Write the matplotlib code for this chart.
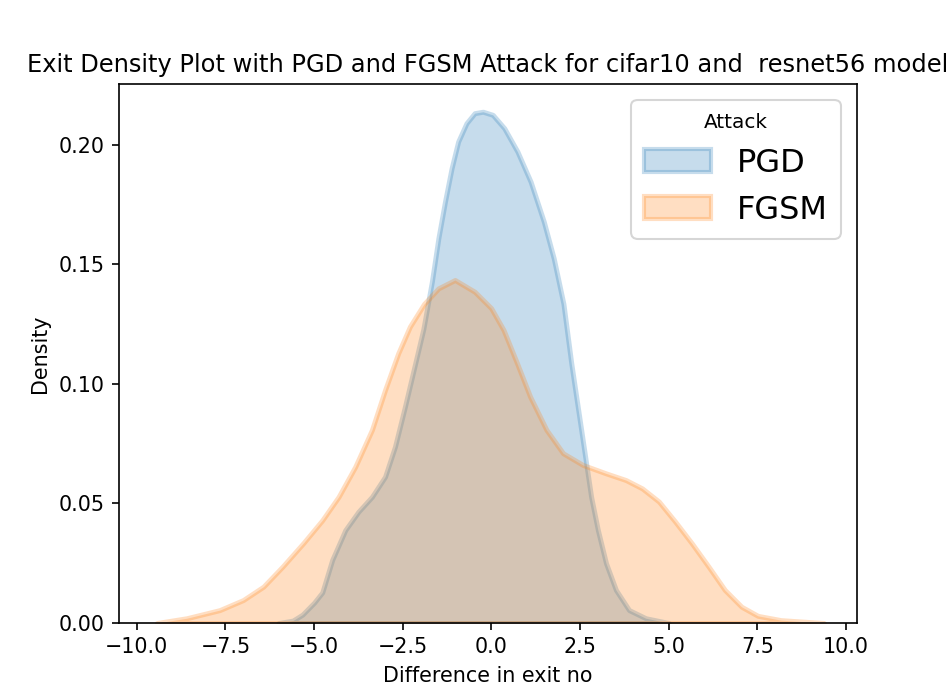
import matplotlib
matplotlib.use("Agg")
import matplotlib.pyplot as plt
from matplotlib.patches import Patch

# Density curves (x = difference in exit no, y = density)
pgd_x = [-6.0, -5.6, -5.33, -5.0, -4.77, -4.49, -4.12, -3.75, -3.37, -3.0, -2.72,
         -2.44, -2.16, -1.92, -1.68, -1.496, -1.31, -1.123, -0.939, -0.705, -0.474,
         -0.24, 0.036, 0.362, 0.733, 1.105, 1.476, 1.755, 2.03, 2.25, 2.39,
         2.53, 2.67, 2.81, 3.0, 3.23, 3.51, 3.88, 4.35, 5.0]
pgd_y = [0.0, 0.001, 0.0035, 0.0085, 0.0128, 0.0264, 0.0389, 0.0466, 0.0528, 0.0612, 0.0738,
         0.0905, 0.108, 0.123, 0.1428, 0.161, 0.1763, 0.1903, 0.2014, 0.2091, 0.2133,
         0.2139, 0.2126, 0.207, 0.1972, 0.1846, 0.1679, 0.1526, 0.1335, 0.1087, 0.0947,
         0.0808, 0.0668, 0.0528, 0.0389, 0.025, 0.0138, 0.0054, 0.002, 0.0]

fgsm_x = [-9.43, -8.59, -7.66, -7.0, -6.43, -5.89, -5.3, -4.77, -4.31, -3.84, -3.37,
          -3.0, -2.63, -2.3, -1.9, -1.496, -1.03, -0.474, -0.008, 0.34, 0.72, 1.09,
          1.55, 2.02, 2.58, 3.23, 3.79, 4.25, 4.72, 5.18, 5.65, 6.12, 6.58, 7.05,
          7.51, 8.16, 9.37]
fgsm_y = [0.0, 0.002, 0.0054, 0.0096, 0.0152, 0.0236, 0.0335, 0.043, 0.0528, 0.0654, 0.0808,
          0.0975, 0.1128, 0.124, 0.1335, 0.140, 0.1435, 0.1386, 0.1317, 0.1226, 0.1087, 0.0947,
          0.0808, 0.071, 0.0661, 0.0626, 0.0598, 0.0563, 0.0508, 0.0424, 0.0333, 0.0236, 0.0138,
          0.0068, 0.003, 0.0012, 0.0]

series_names = ["PGD", "FGSM"]
colors = ["#1f77b4", "#ff7f0e"]

fig = plt.figure(figsize=(6.4, 700 / 148.75), dpi=148.75)
ax = fig.add_subplot(111)

alpha = 0.25
for xs, ys, c in [(pgd_x, pgd_y, colors[0]), (fgsm_x, fgsm_y, colors[1])]:
    ax.fill_between(xs, ys, 0, facecolor=c, edgecolor=c, alpha=alpha, linewidth=2.4,
                    joinstyle="round")

ax.set_xlim(-10.5, 10.3)
ax.set_ylim(0, 0.2255)
ax.set_xticks([-10.0, -7.5, -5.0, -2.5, 0.0, 2.5, 5.0, 7.5, 10.0])
ax.set_yticks([0.0, 0.05, 0.10, 0.15, 0.20])
ax.set_xlabel("Difference in exit no")
ax.set_ylabel("Density")
ax.set_title("Exit Density Plot with PGD and FGSM Attack for cifar10 and  resnet56 model",
             fontsize=11.7)

handles = [Patch(facecolor=c, edgecolor=c, alpha=alpha, linewidth=2.0) for c in colors]
ax.legend(handles, series_names, title="Attack", fontsize=15.5, title_fontsize=9.7,
          loc="upper right", handlelength=2.1)

fig.savefig("out.png", dpi=148.75)
